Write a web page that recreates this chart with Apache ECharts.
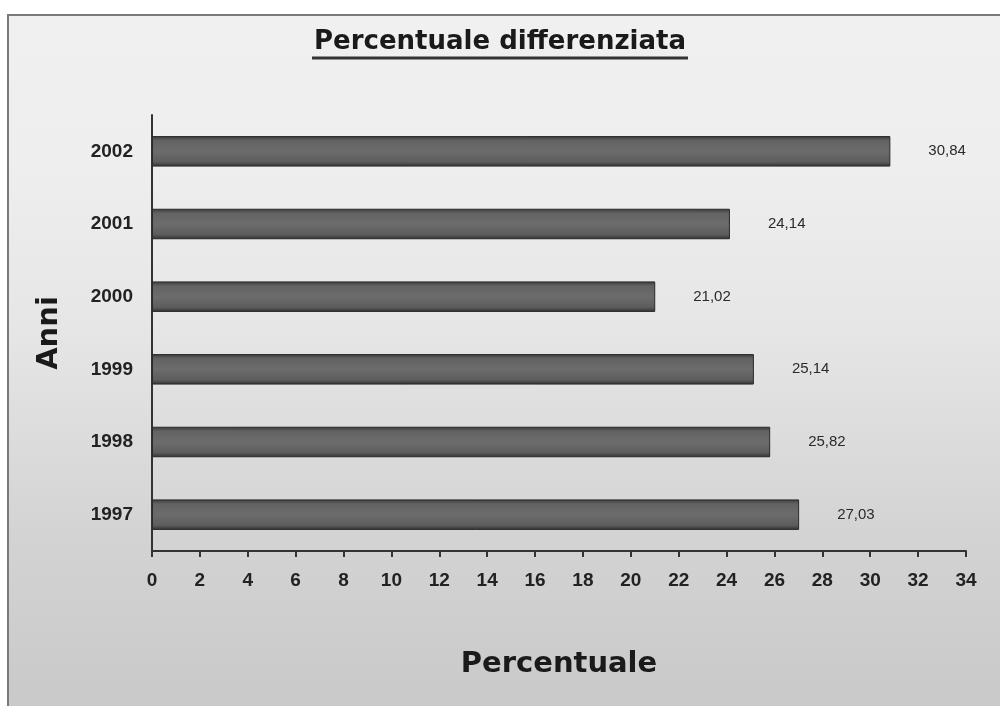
<!DOCTYPE html>
<html>
<head>
<meta charset="utf-8">
<script src="https://cdn.jsdelivr.net/npm/echarts@6/dist/echarts.min.js"></script>
<style>
html,body{margin:0;padding:0;background:#fff;}
#chart{width:1000px;height:706px;}
</style>
</head>
<body>
<div id="chart"></div>
<script>
const titleText = 'Percentuale differenziata';
const xAxisName = 'Percentuale';
const yAxisName = 'Anni';
const years = ['1997', '1998', '1999', '2000', '2001', '2002'];
const values = [27.03, 25.82, 25.14, 21.02, 24.14, 30.84];
const xMin = 0, xMax = 34, xStep = 2;

const chart = echarts.init(document.getElementById('chart'));
const option = {
  backgroundColor: '#ffffff',
  animation: false,
  graphic: [
    {
      type: 'rect', z: -10, silent: true,
      shape: { x: 8, y: 15, width: 996, height: 695 },
      style: {
        fill: {
          type: 'linear', x: 0, y: 0, x2: 0, y2: 1,
          colorStops: [
            { offset: 0, color: '#f0f0f0' },
            { offset: 0.22, color: '#eeeeee' },
            { offset: 0.45, color: '#e6e6e6' },
            { offset: 0.75, color: '#d3d3d3' },
            { offset: 1, color: '#c9c9c9' }
          ]
        },
        stroke: '#7a7a7a', lineWidth: 2
      }
    },
    {
      type: 'line', silent: true,
      shape: { x1: 312, y1: 58, x2: 688, y2: 58 },
      style: { stroke: '#333', lineWidth: 3 }
    }
  ],
  title: {
    text: titleText,
    left: 'center', top: 29, padding: 0,
    textStyle: { fontFamily: 'DejaVu Sans', fontWeight: 'bold', fontSize: 26, color: '#1a1a1a' }
  },
  grid: { left: 152, right: 34, top: 115, bottom: 155, containLabel: false },
  xAxis: {
    type: 'value', min: xMin, max: xMax, interval: xStep,
    name: xAxisName, nameLocation: 'middle', nameGap: 99,
    nameTextStyle: { fontFamily: 'DejaVu Sans', fontWeight: 'bold', fontSize: 29, color: '#1a1a1a' },
    axisLine: { show: true, lineStyle: { color: '#333', width: 2 } },
    axisTick: { show: true, length: 6, lineStyle: { color: '#333', width: 2 } },
    axisLabel: { margin: 20, fontFamily: 'Liberation Sans', fontWeight: 'bold', fontSize: 19, color: '#222' },
    splitLine: { show: false }
  },
  yAxis: {
    type: 'category', data: years,
    name: yAxisName, nameLocation: 'middle', nameGap: 88, nameRotate: 90,
    nameTextStyle: { fontFamily: 'DejaVu Sans', fontWeight: 'bold', fontSize: 29, color: '#1a1a1a' },
    axisLine: { show: true, lineStyle: { color: '#333', width: 2 } },
    axisTick: { show: false },
    axisLabel: { margin: 19, fontFamily: 'Liberation Sans', fontWeight: 'bold', fontSize: 19, color: '#222' }
  },
  series: [{
    type: 'bar',
    data: values,
    barWidth: '42%',
    itemStyle: {
      color: {
        type: 'linear', x: 0, y: 0, x2: 0, y2: 1,
        colorStops: [
          { offset: 0, color: '#3a3a3a' },
          { offset: 0.15, color: '#636363' },
          { offset: 0.5, color: '#6c6c6c' },
          { offset: 0.85, color: '#5c5c5c' },
          { offset: 1, color: '#303030' }
        ]
      },
      borderColor: '#2a2a2a', borderWidth: 1
    },
    label: {
      show: true, position: 'right', distance: 38,
      fontFamily: 'Liberation Sans', fontSize: 15, color: '#2a2a2a',
      formatter: p => p.value.toFixed(2).replace('.', ',')
    }
  }]
};
chart.setOption(option);
</script>
</body>
</html>
